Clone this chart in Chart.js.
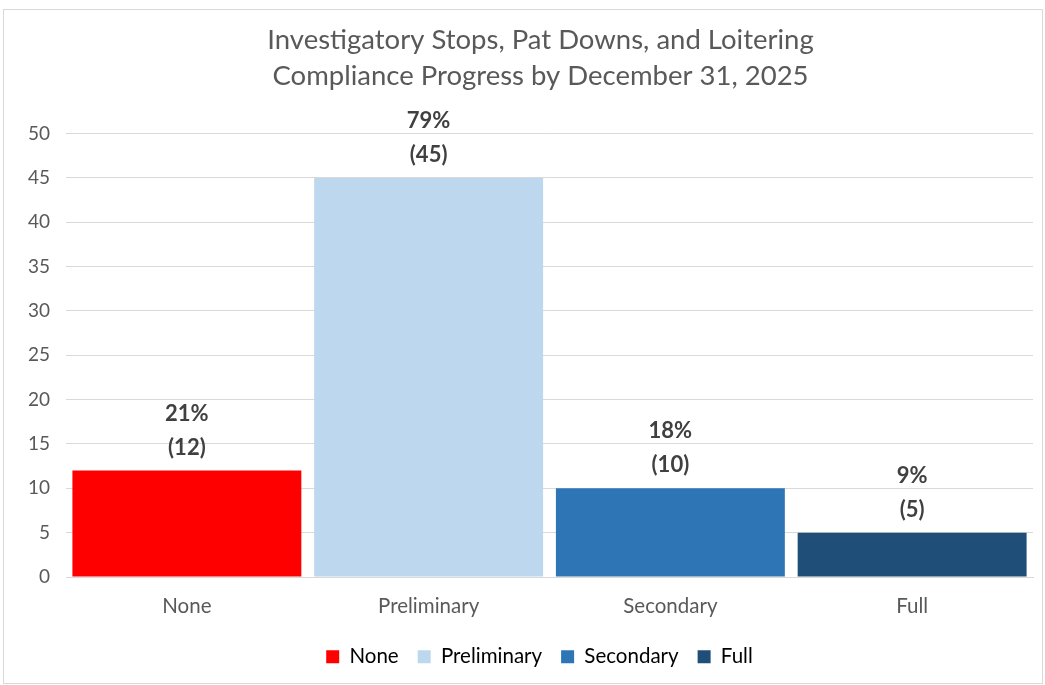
<!DOCTYPE html>
<html>
<head>
<meta charset="utf-8">
<script src="https://cdn.jsdelivr.net/npm/chart.js@4"></script>
<style>
  html, body { margin: 0; padding: 0; background: #fff; }
  #wrap { position: absolute; left: 3px; top: 9px; width: 1040px; height: 675px;
          border: 1px solid #d9d9d9; box-sizing: border-box; }
  #myChart { display: block; }
</style>
</head>
<body>
<div id="wrap"><canvas id="myChart" width="1038" height="673"></canvas></div>
<script>
// data
var categories = ["None", "Preliminary", "Secondary", "Full"];
var counts = [12, 45, 10, 5];
var percents = ["21%", "79%", "18%", "9%"];
var yTicks = [0, 5, 10, 15, 20, 25, 30, 35, 40, 45, 50];
var barColors = ["#ff0000", "#bdd7ee", "#2e75b6", "#1f4e79"];

var fontFam = "Lato, 'Open Sans', sans-serif";

// labels above the bars: percent on top, count in brackets below
var barLabels = {
  id: 'barLabels',
  afterDatasetsDraw: function(chart) {
    var ctx = chart.ctx;
    var meta = chart.getDatasetMeta(0);
    ctx.save();
    ctx.font = "bold 22px " + fontFam;
    ctx.fillStyle = "#404040";
    ctx.textAlign = "center";
    ctx.textBaseline = "middle";
    meta.data.forEach(function(bar, i) {
      ctx.fillText(percents[i], bar.x, bar.y - 57);
      ctx.fillText("(" + counts[i] + ")", bar.x, bar.y - 23);
    });
    ctx.restore();
  }
};

// title and legend sit a little right of centre in the original
var nudge = {
  id: 'nudge',
  afterLayout: function(chart) {
    if (chart.titleBlock) { chart.titleBlock.left += 22; chart.titleBlock.right += 22; }
    if (chart.legend) { chart.legend.left += 21; chart.legend.right += 21; }
  }
};

var ctx = document.getElementById("myChart").getContext('2d');
var myChart = new Chart(ctx, {
  type: 'bar',
  data: {
    labels: categories,
    datasets: [{
      data: counts,
      backgroundColor: barColors,
      borderWidth: 0,
      categoryPercentage: 1,
      barPercentage: 0.947
    }]
  },
  options: {
    responsive: false,
    animation: false,
    layout: { padding: { left: 0, right: 9, top: 0, bottom: 6 } },
    plugins: {
      title: {
        display: true,
        text: ["Investigatory Stops, Pat Downs, and Loitering", "Compliance Progress by December 31, 2025"],
        color: "#595959",
        font: { family: fontFam, size: 27.5, weight: 'normal', lineHeight: 1.32 },
        padding: { top: 12, bottom: 39 }
      },
      legend: {
        position: 'bottom',
        labels: {
          color: "#595959",
          font: { family: fontFam, size: 20.5 },
          boxWidth: 13,
          boxHeight: 13,
          padding: 19,
          generateLabels: function(chart) {
            return categories.map(function(c, i) {
              return { text: c, fillStyle: barColors[i], strokeStyle: barColors[i],
                       lineWidth: 0, index: i, datasetIndex: 0 };
            });
          }
        }
      },
      tooltip: { enabled: false }
    },
    scales: {
      x: {
        grid: { display: false },
        border: { color: "#d9d9d9" },
        ticks: { color: "#595959", font: { family: fontFam, size: 20.5, lineHeight: 1.0 }, padding: 11 }
      },
      y: {
        min: 0,
        max: 50,
        afterBuildTicks: function(scale) {
          scale.ticks = yTicks.map(function(v) { return { value: v }; });
        },
        afterFit: function(scale) { scale.width = 62; },
        grid: { color: "#d9d9d9", drawTicks: false },
        border: { display: false },
        ticks: { color: "#595959", font: { family: fontFam, size: 19 }, padding: 16 }
      }
    }
  },
  plugins: [barLabels, nudge]
});
</script>
</body>
</html>
